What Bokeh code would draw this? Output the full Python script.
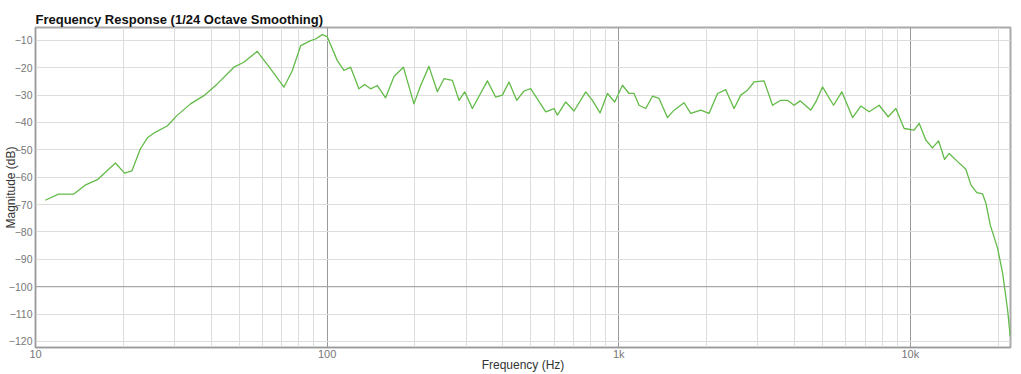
from bokeh.plotting import figure
from bokeh.models import Range1d, FixedTicker, Span
from bokeh.embed import file_html
from bokeh.resources import INLINE

title_text = "Frequency Response (1/24 Octave Smoothing)"
x_label = "Frequency (Hz)"
y_label = "Magnitude (dB)"

freq_hz = [10.8, 12.0, 13.5, 14.8, 16.3, 18.8, 20.2, 21.4, 22.9, 24.2, 25.8, 28.3, 30.6, 34.0, 37.8,
           42.0, 43.1, 46.4, 47.9, 51.8, 57.6, 64.0, 71.1, 76.0, 81.2, 87.8, 91.3, 96.3, 100.0,
           108.4, 114.2, 120.4, 128.5, 134.5, 141.0, 148.7, 158.7, 169.6, 182.6, 198.5, 209.3,
           223.4, 238.8, 251.6, 268.9, 283.3, 296.3, 314.8, 354.5, 378.4, 399.0, 420.5, 446.7,
           473.3, 499.0, 561.8, 600.0, 616.0, 658.0, 702.6, 770.6, 812.5, 862.7, 914.6, 969.0,
           1030, 1085, 1128, 1174, 1238, 1305, 1375, 1469, 1548, 1675, 1766, 1911, 2040, 2182,
           2328, 2486, 2621, 2764, 2912, 3150, 3368, 3594, 3790, 3994, 4188, 4557, 4740, 4997,
           5452, 5821, 6335, 6764, 7224, 7816, 8393, 8920, 9522, 10300, 10720, 11300, 11900,
           12500, 13100, 13590, 14520, 15500, 16130, 16900, 17690, 18160, 18790, 19910, 20720,
           21550, 22000]
mag_db = [-68.4, -66.2, -66.2, -62.9, -60.9, -54.8, -58.5, -57.7, -49.6, -45.6, -43.5, -41.3, -37.4, -33.2, -30.2,
          -25.9, -24.7, -21.3, -19.8, -18.0, -14.0, -20.4, -27.1, -21.0, -11.9, -10.1, -9.5, -7.9, -8.6,
          -17.4, -21.0, -19.8, -27.7, -26.1, -27.7, -26.5, -31.0, -23.2, -19.8, -33.2, -26.5,
          -19.5, -28.8, -24.0, -24.6, -31.9, -28.8, -34.9, -24.8, -30.7, -30.0, -25.2, -31.9,
          -28.5, -27.6, -36.1, -34.9, -37.3, -32.5, -35.8, -28.8, -31.9, -36.5, -29.4, -32.5,
          -26.4, -29.4, -29.4, -33.7, -34.9, -30.4, -31.2, -38.2, -35.5, -32.8, -36.7, -35.5, -36.7, -29.4,
          -28.0, -34.9, -30.0, -28.2, -25.2, -24.8, -33.7, -31.9, -31.9, -33.7, -32.1, -35.5, -32.5, -27.0,
          -33.7, -28.8, -38.2, -34.0, -36.1, -33.7, -37.9, -34.9, -42.2, -42.8, -40.3, -46.4, -49.3,
          -46.7, -53.5, -51.3, -54.3, -57.1, -62.8, -65.6, -66.1, -69.5, -77.4, -85.9, -95.0,
          -108.4, -118.1]

x_ticks = [10, 100, 1000, 10000]
x_tick_labels = ["10", "100", "1k", "10k"]
x_minor = [m * d for d in (10, 100, 1000) for m in range(2, 10)] + [20000]
y_ticks = [-10, -20, -30, -40, -50, -60, -70, -80, -90, -100, -110, -120]

X0, X1 = 10, 22050
Y0, Y1 = -122.2, -5.3
FONT = "Liberation Sans"

p = figure(width=1021, height=374, x_axis_type="log", output_backend="svg",
           toolbar_location=None, x_range=Range1d(X0, X1), y_range=Range1d(Y0, Y1),
           min_border_left=35, min_border_right=11, min_border_top=27, min_border_bottom=26,
           title=title_text, x_axis_label=x_label, y_axis_label=y_label)
p.background_fill_color = "white"
p.border_fill_color = "white"
p.outline_line_color = "#aaaaaa"
p.outline_line_width = 2

p.title.align = "left"
p.title.offset = 0
p.title.standoff = 2
p.title.text_font = FONT
p.title.text_font_style = "bold"
p.title.text_font_size = "13px"
p.title.text_color = "#111111"

p.line(freq_hz, mag_db, line_color="#62bb48", line_width=1.3, line_join="round")

xa = p.xaxis[0]
xa.ticker = FixedTicker(ticks=x_ticks, minor_ticks=x_minor)
xa.major_label_overrides = {t: l for t, l in zip(x_ticks, x_tick_labels)}
ya = p.yaxis[0]
ya.ticker = FixedTicker(ticks=y_ticks)
for ax in (xa, ya):
    ax.axis_line_color = "#999999"
    ax.major_tick_line_color = None
    ax.minor_tick_line_color = None
    ax.major_tick_out = 0
    ax.major_tick_in = 0
    ax.minor_tick_out = 0
    ax.major_label_text_font = FONT
    ax.major_label_text_color = "#777777"
    ax.axis_label_text_font = FONT
    ax.axis_label_text_font_size = "12px"
    ax.axis_label_text_font_style = "normal"
    ax.axis_label_text_color = "#333333"

xa.major_label_text_font_size = "11px"
xa.major_label_standoff = 0
xa.axis_label_standoff = -5
ya.major_label_text_font_size = "10.5px"
ya.major_label_standoff = 3
ya.axis_label_standoff = -12

p.xgrid.grid_line_color = "#999999"
p.xgrid.minor_grid_line_color = "#dddddd"
p.ygrid.grid_line_color = "#dddddd"
p.add_layout(Span(location=-100, dimension="width", line_color="#999999", line_width=1))

open("out.html", "w").write(file_html(p, INLINE))
